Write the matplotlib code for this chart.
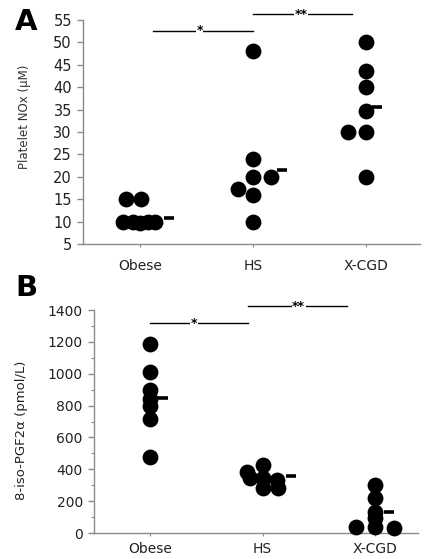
import matplotlib
matplotlib.use("Agg")
import matplotlib.pyplot as plt
from matplotlib.ticker import MultipleLocator

plt.rcParams['font.family'] = ['DejaVu Sans']

categories = ["Obese", "HS", "X-CGD"]

# Panel A: Platelet NOx (uM) -- (group index, x jitter, value)
a_group = [1, 1, 1, 1, 1, 1, 1,
           2, 2, 2, 2, 2, 2, 2,
           3, 3, 3, 3, 3, 3, 3]
a_jitter = [-0.15, -0.06, 0.0, 0.07, 0.13, -0.12, 0.01,
            0.0, 0.0, 0.0, 0.16, -0.13, 0.0, 0.0,
            0.0, 0.0, 0.0, 0.0, -0.16, 0.0, 0.0]
a_values = [10, 10, 9.6, 10, 10, 15, 15,
            48, 24, 20, 20, 17.3, 16, 10,
            50, 43.7, 40, 34.8, 30, 30, 20]
a_means = [10.8, 21.5, 35.5]
a_mean_offset = [0.26, 0.26, 0.10]

# Panel B: 8-iso-PGF2alpha (pmol/L)
b_group = [1, 1, 1, 1, 1, 1, 1,
           2, 2, 2, 2, 2, 2, 2,
           3, 3, 3, 3, 3, 3, 3]
b_jitter = [0, 0, 0, 0, 0, 0, 0,
            -0.14, -0.11, 0.0, 0.0, 0.0, 0.13, 0.14,
            0.0, 0.0, 0.0, 0.0, 0.0, -0.17, 0.17]
b_values = [1185, 1010, 900, 840, 800, 715, 480,
            385, 343, 427, 343, 281, 333, 281,
            300, 220, 135, 95, 40, 35, 30]
b_means = [845, 360, 134]
b_mean_offset = [0.11, 0.25, 0.12]

fig = plt.figure(figsize=(4.27, 5.59), dpi=100)

spine_col = '#8a8a8a'

def style(ax, xpad):
    for s in ['top', 'right']:
        ax.spines[s].set_visible(False)
    for s in ['left', 'bottom']:
        ax.spines[s].set_color(spine_col)
        ax.spines[s].set_linewidth(1.0)
    ax.tick_params(axis='y', which='major', length=4, width=1.0, color=spine_col,
                   labelcolor='#222222', pad=4)
    ax.tick_params(axis='x', which='major', length=2.5, width=0.8, color=spine_col,
                   labelcolor='#222222', pad=xpad, labelsize=10)
    ax.set_xticks([1, 2, 3])
    ax.set_xticklabels(categories)

def draw(ax, groups, jit, vals, means, moff, msize):
    xs = [g + j for g, j in zip(groups, jit)]
    ax.scatter(xs, vals, s=msize, color='black', zorder=3, clip_on=False, linewidths=0)
    for i, m in enumerate(means):
        ax.plot([i + 1 + moff[i] - 0.045, i + 1 + moff[i] + 0.045], [m, m],
                color='black', lw=2.6, solid_capstyle='butt', zorder=3)

def sigbar(ax, x0, x1, y, xs, label, fs):
    ax.plot([x0, x1], [y, y], color='black', lw=1.0, clip_on=False, zorder=2)
    ax.text(xs, y, label, ha='center', va='center', fontsize=fs, clip_on=False,
            fontweight='bold',
            bbox=dict(facecolor='white', edgecolor='none', pad=0.3), zorder=3)

# ---------- Panel A ----------
axA = fig.add_axes([0.1944, 0.5635, 0.789, 0.4007])
style(axA, 8)
axA.set_xlim(0.496, 3.48)
axA.set_ylim(5, 55)
axA.set_yticks(range(5, 60, 5))
axA.tick_params(axis='y', labelsize=10.5)
draw(axA, a_group, a_jitter, a_values, a_means, a_mean_offset, 130)
axA.set_ylabel("Platelet NOx (\u03bcM)", fontsize=8.5, color='#333333', labelpad=8)
axA.yaxis.set_label_coords(-0.155, 0.57)
sigbar(axA, 1.12, 2.0, 52.6, 1.53, "*", 9)
sigbar(axA, 2.0, 2.88, 56.3, 2.43, "**", 9)
fig.text(0.035, 0.985, "A", fontsize=21, fontweight='bold', ha='left', va='top')

# ---------- Panel B ----------
axB = fig.add_axes([0.2201, 0.0465, 0.759, 0.3989])
style(axB, 4)
axB.set_xlim(0.502, 3.38)
axB.set_ylim(0, 1400)
axB.set_yticks(range(0, 1600, 200))
axB.yaxis.set_minor_locator(MultipleLocator(100))
axB.tick_params(axis='y', which='minor', length=2.5, width=0.8, color=spine_col)
axB.tick_params(axis='y', labelsize=10)
draw(axB, b_group, b_jitter, b_values, b_means, b_mean_offset, 130)
axB.set_ylabel("8-iso-PGF2\u03b1 (pmol/L)", fontsize=9.5, color='#222222', labelpad=8)
axB.yaxis.set_label_coords(-0.205, 0.46)
sigbar(axB, 1.0, 1.874, 1316, 1.39, "*", 9)
sigbar(axB, 1.874, 2.75, 1425, 2.32, "**", 9)
fig.text(0.035, 0.51, "B", fontsize=21, fontweight='bold', ha='left', va='top')

fig.savefig("out.png", dpi=100)
